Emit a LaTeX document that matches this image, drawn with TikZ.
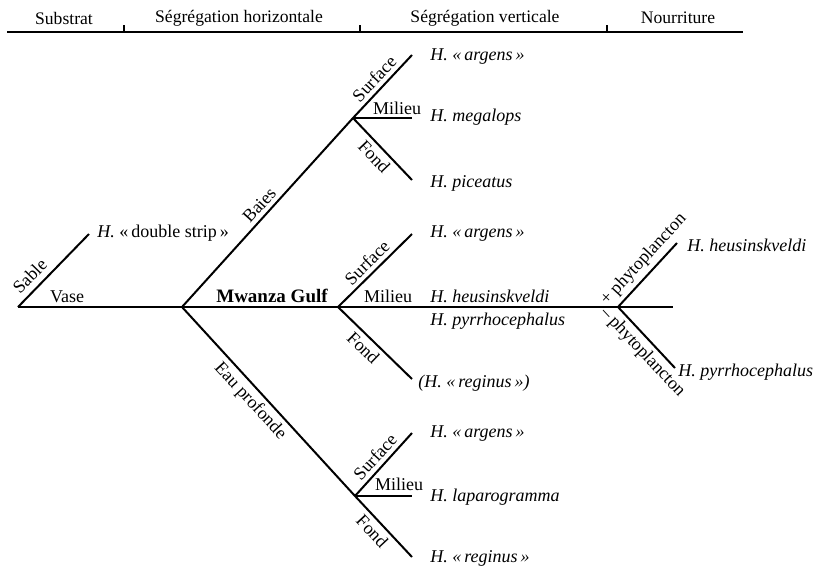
\documentclass[tikz,border=0pt]{standalone}
\usepackage{fontspec}
\setmainfont{Liberation Serif}
\begin{document}
\begin{tikzpicture}[x=0.5pt,y=-0.5pt,
  branch/.style={line width=1pt},
  hline/.style={line width=0.85pt},
  hdr/.style={font=\fontsize{8.8}{10}\selectfont, inner sep=0pt},
  lbl/.style={font=\fontsize{9}{10.8}\selectfont, inner sep=2pt},
  sp/.style={font=\fontsize{9}{10.8}\selectfont\itshape, inner sep=0pt, anchor=west},
  bold/.style={font=\fontsize{9.5}{11}\selectfont\bfseries, inner sep=0pt}]
\useasboundingbox (0,0) rectangle (820,568);

% header
\node[hdr] (hsub) at (64,18) {Substrat};
\node[hdr] (hhor) at (239,18) {Ségrégation horizontale};
\node[hdr] (hver) at (485,18) {Ségrégation verticale};
\node[hdr] (hnou) at (678,18) {Nourriture};
\coordinate (hl) at (7,32);
\coordinate (hr) at (743,32);
\coordinate (t1) at (124,32); \coordinate (t1u) at (124,25);
\coordinate (t2) at (360,32); \coordinate (t2u) at (360,25);
\coordinate (t3) at (607,32); \coordinate (t3u) at (607,25);
\draw[hline] (hl) -- (hr);
\draw[hline] (t1) -- (t1u);
\draw[hline] (t2) -- (t2u);
\draw[hline] (t3) -- (t3u);

% tree points
\coordinate (root) at (18,307);
\coordinate (sableEnd) at (89,234);
\coordinate (j1) at (182,307);
\coordinate (baiesJ) at (353,118);
\coordinate (topSurf) at (412,55);
\coordinate (topMil) at (412,118);
\coordinate (topFond) at (412,180);
\coordinate (midJ) at (338,307);
\coordinate (midSurf) at (412,234);
\coordinate (midFond) at (412,379);
\coordinate (foodJ) at (618,307);
\coordinate (foodEnd) at (673,307);
\coordinate (foodUp) at (677,243);
\coordinate (foodDown) at (675,368);
\coordinate (botJ) at (355,496);
\coordinate (botSurf) at (412,433);
\coordinate (botMil) at (412,496);
\coordinate (botFond) at (412,557);

% branches
\draw[branch] (root) -- node[lbl,sloped,above,pos=0.3,yshift=1pt] (lsable) {Sable} (sableEnd);
\draw[branch] (root) -- (j1) -- (midJ) -- (foodJ) -- (foodEnd);
\draw[branch] (j1) -- node[lbl,sloped,above,pos=0.5] (lbaies) {Baies} (baiesJ)
  -- node[lbl,sloped,above,pos=0.5] (ls1) {Surface} (topSurf);
\draw[branch] (baiesJ) -- (topMil);
\draw[branch] (baiesJ) -- node[lbl,sloped,below,pos=0.5] (lf1) {Fond} (topFond);
\draw[branch] (midJ) -- node[lbl,sloped,above,pos=0.5] (ls2) {Surface} (midSurf);
\draw[branch] (midJ) -- node[lbl,sloped,below,pos=0.45] (lf2) {Fond} (midFond);
\draw[branch] (j1) -- node[lbl,sloped,below,pos=0.45] (leau) {Eau profonde} (botJ)
  -- node[lbl,sloped,below,pos=0.45] (lf3) {Fond} (botFond);
\draw[branch] (botJ) -- node[lbl,sloped,above,pos=0.5] (ls3) {Surface} (botSurf);
\draw[branch] (botJ) -- (botMil);
\draw[branch] (foodJ) -- node[lbl,sloped,above,pos=0.6] (lplus) {+ phytoplancton} (foodUp);
\draw[branch] (foodJ) -- node[lbl,sloped,below,pos=0.6] (lminus) {–\,phytoplancton} (foodDown);

% plain labels
\node[lbl,inner sep=0pt] (lvase) at (67,297) {Vase};
\node[bold] (lmwanza) at (272,296) {Mwanza Gulf};
\node[lbl,inner sep=0pt] (lm1) at (397,108) {Milieu};
\node[lbl,inner sep=0pt] (lm2) at (388,296) {Milieu};
\node[lbl,inner sep=0pt] (lm3) at (399,484) {Milieu};

% species
\node[sp] (sds) at (97,233) {H.\upshape\ «\,double strip\,»};
\node[sp] (s1) at (430,57) {H. «\,argens\,»};
\node[sp] (s2) at (430,117) {H. megalops};
\node[sp] (s3) at (430,183) {H. piceatus};
\node[sp] (s4) at (430,234) {H. «\,argens\,»};
\node[sp] (s5) at (430,296) {H. heusinskveldi};
\node[sp] (s6) at (430,321) {H. pyrrhocephalus};
\node[sp] (s7) at (418,383) {(H. «\,reginus\,»)};
\node[sp] (s8) at (430,434) {H. «\,argens\,»};
\node[sp] (s9) at (430,497) {H. laparogramma};
\node[sp] (s10) at (430,558) {H. «\,reginus\,»};
\node[sp] (s11) at (687,245) {H. heusinskveldi};
\node[sp] (s12) at (678,372) {H. pyrrhocephalus};
\end{tikzpicture}
\end{document}
